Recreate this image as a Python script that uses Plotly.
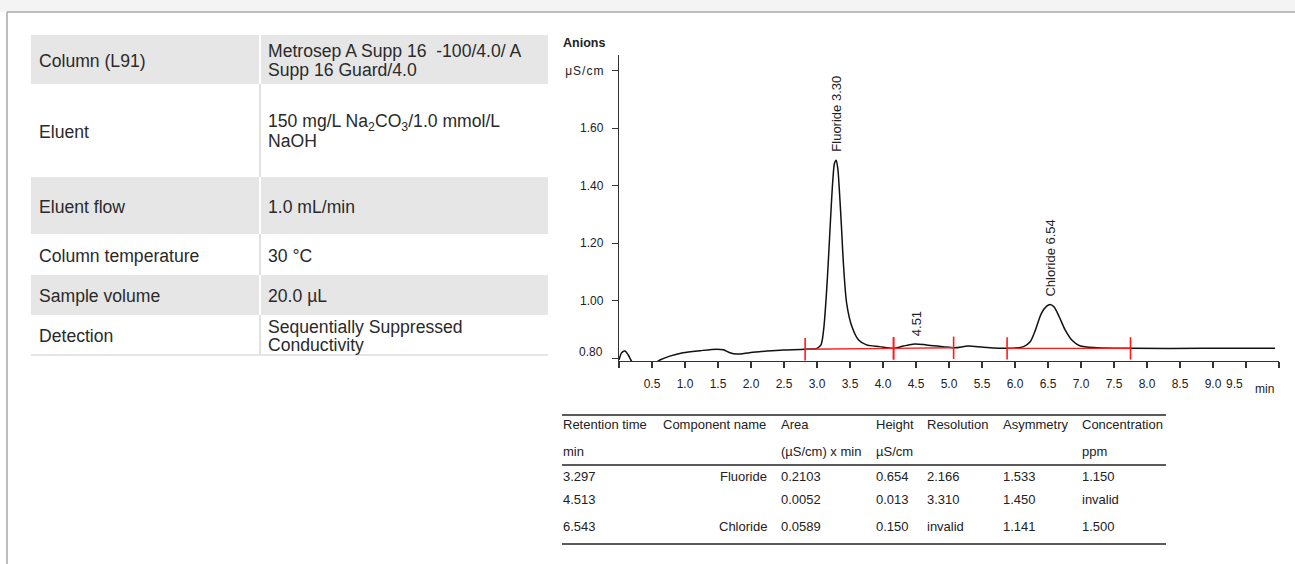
import plotly.graph_objects as go

W, H = 1295, 564


def px(x):
    return x / W


def py(y):
    return 1 - y / H


FONT = "Liberation Sans, Arial, Helvetica, sans-serif"
TXT = "#222222"

# ---------------- data ----------------
# chromatogram
time_min = [0.0, 0.04, 0.09, 0.14, 0.18, 0.25, 0.45, 0.62, 0.77, 0.97, 1.23, 1.48, 1.58, 1.68,
            1.78, 1.98, 2.24, 2.49, 2.82, 3.0, 3.06, 3.10, 3.14, 3.17, 3.21, 3.24, 3.265, 3.29,
            3.315, 3.34, 3.37, 3.40, 3.45, 3.53, 3.63, 3.75, 3.95, 4.16, 4.31, 4.48, 4.66, 4.91,
            5.09, 5.29, 5.52, 5.88, 6.13, 6.23, 6.30, 6.40, 6.48, 6.53, 6.59, 6.67, 6.76, 6.86,
            6.98, 7.24, 7.75, 8.85, 9.94]
signal_uScm = [0.7935, 0.819, 0.825, 0.811, 0.7935, 0.77, 0.77, 0.7935, 0.807, 0.819, 0.826,
               0.831, 0.829, 0.819, 0.814, 0.819, 0.825, 0.828, 0.831, 0.834, 0.846, 0.898,
               1.014, 1.13, 1.304, 1.42, 1.478, 1.489, 1.46, 1.38, 1.26, 1.13, 0.99, 0.909,
               0.863, 0.846, 0.84, 0.834, 0.842, 0.849, 0.846, 0.84, 0.836, 0.842, 0.838, 0.834,
               0.84, 0.857, 0.892, 0.956, 0.981, 0.987, 0.979, 0.944, 0.898, 0.863, 0.843, 0.836,
               0.834, 0.834, 0.834]

# integration baselines
base_start_t = [2.82, 4.16, 5.88]
base_end_t = [4.16, 5.07, 7.75]
base_start_y = [0.831, 0.834, 0.834]
base_end_y = [0.834, 0.836, 0.834]

# peak labels
peak_rt = [3.30, 4.51, 6.54]
peak_apex = [1.49, 0.849, 0.987]
peak_label = ["Fluoride 3.30", "4.51", "Chloride 6.54"]

# axis ticks
x_tickvals = [i * 0.5 for i in range(21)]
x_ticktext = [""] + ["%.1f" % v for v in x_tickvals[1:19]] + ["", ""]
y_tickvals = [0.8, 1.0, 1.2, 1.4, 1.6, 1.8]
y_ticktext = ["", "1.00", "1.20", "1.40", "1.60", "\u03bc\u200aS\u200a/\u200ac\u200am"]

# conditions table
param_labels = ["Column (L91)", "Eluent", "Eluent flow", "Column temperature",
                "Sample volume", "Detection"]
param_values = [
    ["Metrosep A Supp 16\u00a0 -100/4.0/ A", "Supp 16 Guard/4.0"],
    ["150 mg/L Na<sub>2</sub>CO<sub>3</sub>/1.0 mmol/L", "NaOH"],
    ["1.0 mL/min"],
    ["30 \u00b0C"],
    ["20.0 \u00b5L"],
    ["Sequentially Suppressed", "Conductivity"],
]

# results table
res_headers = ["Retention time", "Component name", "Area", "Height", "Resolution",
               "Asymmetry", "Concentration"]
res_units = ["min", "", "(\u00b5S/cm) x min", "\u00b5S/cm", "", "", "ppm"]
ret_time = ["3.297", "4.513", "6.543"]
comp_name = ["Fluoride", "", "Chloride"]
area = ["0.2103", "0.0052", "0.0589"]
height = ["0.654", "0.013", "0.150"]
resolution = ["2.166", "3.310", "invalid"]
asymmetry = ["1.533", "1.450", "1.141"]
concentration = ["1.150", "invalid", "1.500"]

# ---------------- figure ----------------
fig = go.Figure()

fig.add_trace(go.Scatter(
    x=time_min, y=signal_uScm, mode="lines",
    line=dict(color="#111111", width=1.5, shape="spline", smoothing=0.8),
    hoverinfo="skip", showlegend=False))

bx, byv = [], []
for s, e, ys, ye in zip(base_start_t, base_end_t, base_start_y, base_end_y):
    bx += [s, e, None]
    byv += [ys, ye, None]
fig.add_trace(go.Scatter(x=bx, y=byv, mode="lines",
                         line=dict(color="#ff1a1a", width=1.4),
                         hoverinfo="skip", showlegend=False))
fig.add_trace(go.Scatter(
    x=base_start_t + base_end_t, y=base_start_y + base_end_y, mode="markers",
    marker=dict(symbol="line-ns", size=16, line=dict(color="#ff1a1a", width=1.6)),
    hoverinfo="skip", showlegend=False))

annotations = []
for t, a, lab in zip(peak_rt, peak_apex, peak_label):
    annotations.append(dict(x=t, y=a, xref="x", yref="y", text=lab, showarrow=False,
                            textangle=-90, xanchor="center", yanchor="bottom", yshift=6,
                            font=dict(family=FONT, size=13, color=TXT)))

# y tick "0.80" (drawn slightly raised as in the original)
annotations.append(dict(x=px(605), y=0.8, xref="paper", yref="y", text="0.80",
                        showarrow=False, xanchor="right", yanchor="middle", yshift=6,
                        font=dict(family=FONT, size=12, color=TXT)))
# x tick "9.5" and unit "min"
annotations.append(dict(x=9.5, y=py(384), xref="x", yref="paper", text="9.5",
                        showarrow=False, xanchor="center", yanchor="middle", xshift=-12,
                        font=dict(family=FONT, size=12, color=TXT)))
annotations.append(dict(x=10, y=py(389), xref="x", yref="paper", text="min",
                        showarrow=False, xanchor="center", yanchor="middle", xshift=-15,
                        font=dict(family=FONT, size=12, color=TXT)))
annotations.append(dict(x=px(561), y=py(43), xref="paper", yref="paper", text="<b>Anions</b>",
                        showarrow=False, xanchor="left", yanchor="middle",
                        font=dict(family=FONT, size=12.5, color=TXT)))

shapes = []
# page frame
shapes.append(dict(type="rect", xref="paper", yref="paper", x0=0, x1=1, y0=py(11.5), y1=1,
                   fillcolor="#f4f4f4", line=dict(width=0), layer="below"))
shapes.append(dict(type="line", xref="paper", yref="paper", x0=px(7), x1=1, y0=py(12),
                   y1=py(12), line=dict(color="#a8a8a8", width=1.5)))
shapes.append(dict(type="line", xref="paper", yref="paper", x0=px(7), x1=px(7), y0=py(12),
                   y1=0, line=dict(color="#a8a8a8", width=1.5)))

# conditions table
row_edges = [35, 84, 177, 234, 275, 315, 355]
TL, TM, TR = 31, 260, 548
GRAY = "#e6e6e6"
for i, lab in enumerate(param_labels):
    top, bot = row_edges[i], row_edges[i + 1]
    if i % 2 == 0:
        shapes.append(dict(type="rect", xref="paper", yref="paper", x0=px(TL), x1=px(TM - 1),
                           y0=py(bot), y1=py(top), fillcolor=GRAY, line=dict(width=0),
                           layer="below"))
        shapes.append(dict(type="rect", xref="paper", yref="paper", x0=px(TM + 1), x1=px(TR),
                           y0=py(bot), y1=py(top), fillcolor=GRAY, line=dict(width=0),
                           layer="below"))
    else:
        shapes.append(dict(type="line", xref="paper", yref="paper", x0=px(TM), x1=px(TM),
                           y0=py(bot), y1=py(top), line=dict(color="#e2e2e2", width=2),
                           layer="below"))
    mid = (top + bot) / 2
    annotations.append(dict(x=px(37), y=py(mid + 1), xref="paper", yref="paper", text=lab,
                            showarrow=False, xanchor="left", yanchor="middle",
                            font=dict(family=FONT, size=17.6, color="#2a2a2a")))
    vals = param_values[i]
    n = len(vals)
    for j, v in enumerate(vals):
        yy = mid + 1 + (j - (n - 1) / 2) * 18.5
        annotations.append(dict(x=px(266), y=py(yy), xref="paper", yref="paper", text=v,
                                showarrow=False, xanchor="left", yanchor="middle",
                                font=dict(family=FONT, size=17.6, color="#2a2a2a")))
shapes.append(dict(type="line", xref="paper", yref="paper", x0=px(TL), x1=px(TR),
                   y0=py(355), y1=py(355), line=dict(color="#dcdcdc", width=1.5)))

# results table
RX0, RX1 = 562, 1166
for yl in [415, 465, 544]:
    shapes.append(dict(type="line", xref="paper", yref="paper", x0=px(RX0), x1=px(RX1),
                       y0=py(yl), y1=py(yl), line=dict(color="#5a5a5a", width=2)))
col_x = [561, 661, 779, 874, 925, 1001, 1080]
name_right = 769
rfont = dict(family=FONT, size=13, color=TXT)
for cx, hd, un in zip(col_x, res_headers, res_units):
    annotations.append(dict(x=px(cx), y=py(424), xref="paper", yref="paper", text=hd,
                            showarrow=False, xanchor="left", yanchor="middle", font=rfont))
    if un:
        annotations.append(dict(x=px(cx), y=py(451), xref="paper", yref="paper", text=un,
                                showarrow=False, xanchor="left", yanchor="middle", font=rfont))
row_y = [476, 500, 526]
for r in range(3):
    cells = [ret_time[r], comp_name[r], area[r], height[r], resolution[r], asymmetry[r],
             concentration[r]]
    for c, (cx, val) in enumerate(zip(col_x, cells)):
        if not val:
            continue
        if c == 1:
            annotations.append(dict(x=px(name_right), y=py(row_y[r]), xref="paper",
                                    yref="paper", text=val, showarrow=False, xanchor="right",
                                    yanchor="middle", font=rfont))
        else:
            annotations.append(dict(x=px(cx), y=py(row_y[r]), xref="paper", yref="paper",
                                    text=val, showarrow=False, xanchor="left",
                                    yanchor="middle", font=rfont))

fig.update_layout(
    width=W, height=H, autosize=False,
    margin=dict(l=0, r=0, t=0, b=0, pad=0),
    paper_bgcolor="white", plot_bgcolor="white",
    font=dict(family=FONT, color=TXT),
    showlegend=False,
    xaxis=dict(range=[0, 10], domain=[px(619), px(1279)], tickmode="array",
               tickvals=x_tickvals, ticktext=x_ticktext, ticks="outside", ticklen=6,
               tickwidth=1.2, tickcolor="#333", showline=True, linecolor="#333", linewidth=1.2,
               showgrid=False, zeroline=False, ticklabelstandoff=5,
               tickfont=dict(family=FONT, size=12, color=TXT), fixedrange=True),
    yaxis=dict(range=[0.79, 1.855], domain=[py(361), py(55)], tickmode="array",
               tickvals=y_tickvals, ticktext=y_ticktext, ticks="outside", ticklen=6,
               tickwidth=1.2, tickcolor="#333", showline=True, linecolor="#333", linewidth=1.2,
               showgrid=False, zeroline=False, ticklabelstandoff=6,
               tickfont=dict(family=FONT, size=12, color=TXT), fixedrange=True),
    annotations=annotations,
    shapes=shapes,
)

fig.write_html(
    "out.html",
    config={"displayModeBar": False, "staticPlot": True},
    post_script="document.body.style.margin='0';document.body.style.padding='0';"
                "document.body.style.overflow='hidden';",
)
